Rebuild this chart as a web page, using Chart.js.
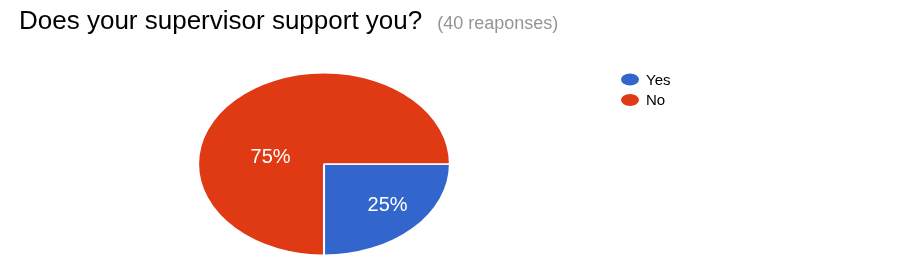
<!DOCTYPE html>
<html>
<head>
<meta charset="utf-8">
<script src="https://cdn.jsdelivr.net/npm/chart.js@4/dist/chart.umd.min.js"></script>
<style>
  html, body { margin: 0; padding: 0; background: #fff; }
  canvas { display: block; }
</style>
</head>
<body>
<canvas id="pie" width="903" height="265"></canvas>
<script>
// data
const question = 'Does your supervisor support you?';
const categories = ['Yes', 'No'];
const responses = [10, 30];
const sliceColors = ['#3366CC', '#DF3A14'];

const total = responses.reduce((a, b) => a + b, 0);

// pie is drawn stretched horizontally like the original
const stretchX = 1.38;

const decorations = {
    id: 'decorations',
    beforeDatasetsDraw(chart) {
        const ctx = chart.ctx;
        const arc = chart.getDatasetMeta(0).data[0];
        ctx.save();
        ctx.translate(arc.x, arc.y);
        ctx.scale(stretchX, 1);
        ctx.translate(-arc.x, -arc.y);
    },
    afterDatasetsDraw(chart, args, opts) {
        const ctx = chart.ctx;
        ctx.restore();

        const meta = chart.getDatasetMeta(0);
        ctx.save();
        ctx.fillStyle = '#ffffff';
        ctx.font = '20px "Liberation Sans", Arial, sans-serif';
        ctx.textAlign = 'center';
        ctx.textBaseline = 'middle';
        meta.data.forEach((arc, i) => {
            const p = opts.labelSpots[i];
            const a = p.angle * Math.PI / 180;
            const r = arc.outerRadius * p.r;
            const x = arc.x + Math.cos(a) * r * stretchX;
            const y = arc.y + Math.sin(a) * r;
            const pct = Math.round(responses[i] / total * 100) + '%';
            ctx.fillText(pct, x, y);
        });
        ctx.restore();
    },
    afterDraw(chart) {
        const ctx = chart.ctx;
        ctx.save();
        // title
        ctx.textBaseline = 'alphabetic';
        ctx.textAlign = 'left';
        ctx.font = '26px "Liberation Sans", Arial, sans-serif';
        ctx.fillStyle = '#000000';
        ctx.fillText(question, 19, 29);
        const w = ctx.measureText(question).width;
        ctx.font = '18px "Liberation Sans", Arial, sans-serif';
        ctx.fillStyle = '#959595';
        ctx.fillText('(' + total + ' reaponses)', 19 + w + 15, 29);

        // legend
        ctx.font = '15px "Liberation Sans", Arial, sans-serif';
        categories.forEach((c, i) => {
            const y = 79.5 + i * 20.5;
            ctx.fillStyle = sliceColors[i];
            ctx.beginPath();
            ctx.ellipse(630, y, 9, 6, 0, 0, Math.PI * 2);
            ctx.fill();
            ctx.fillStyle = '#000000';
            ctx.textBaseline = 'middle';
            ctx.fillText(c, 646, y + 1);
        });
        ctx.restore();
    }
};

new Chart(document.getElementById('pie'), {
    type: 'pie',
    data: {
        labels: categories,
        datasets: [{
            data: responses,
            backgroundColor: sliceColors,
            borderColor: '#ffffff',
            borderWidth: 1.5,
            hoverOffset: 0
        }]
    },
    options: {
        responsive: false,
        animation: false,
        rotation: 90,
        layout: {
            padding: { left: 232, right: 487, top: 72, bottom: 9 }
        },
        plugins: {
            legend: { display: false },
            tooltip: { enabled: false },
            decorations: {
                labelSpots: [
                    { angle: 42, r: 0.68 },
                    { angle: 189, r: 0.43 }
                ]
            }
        }
    },
    plugins: [decorations]
});
</script>
</body>
</html>
